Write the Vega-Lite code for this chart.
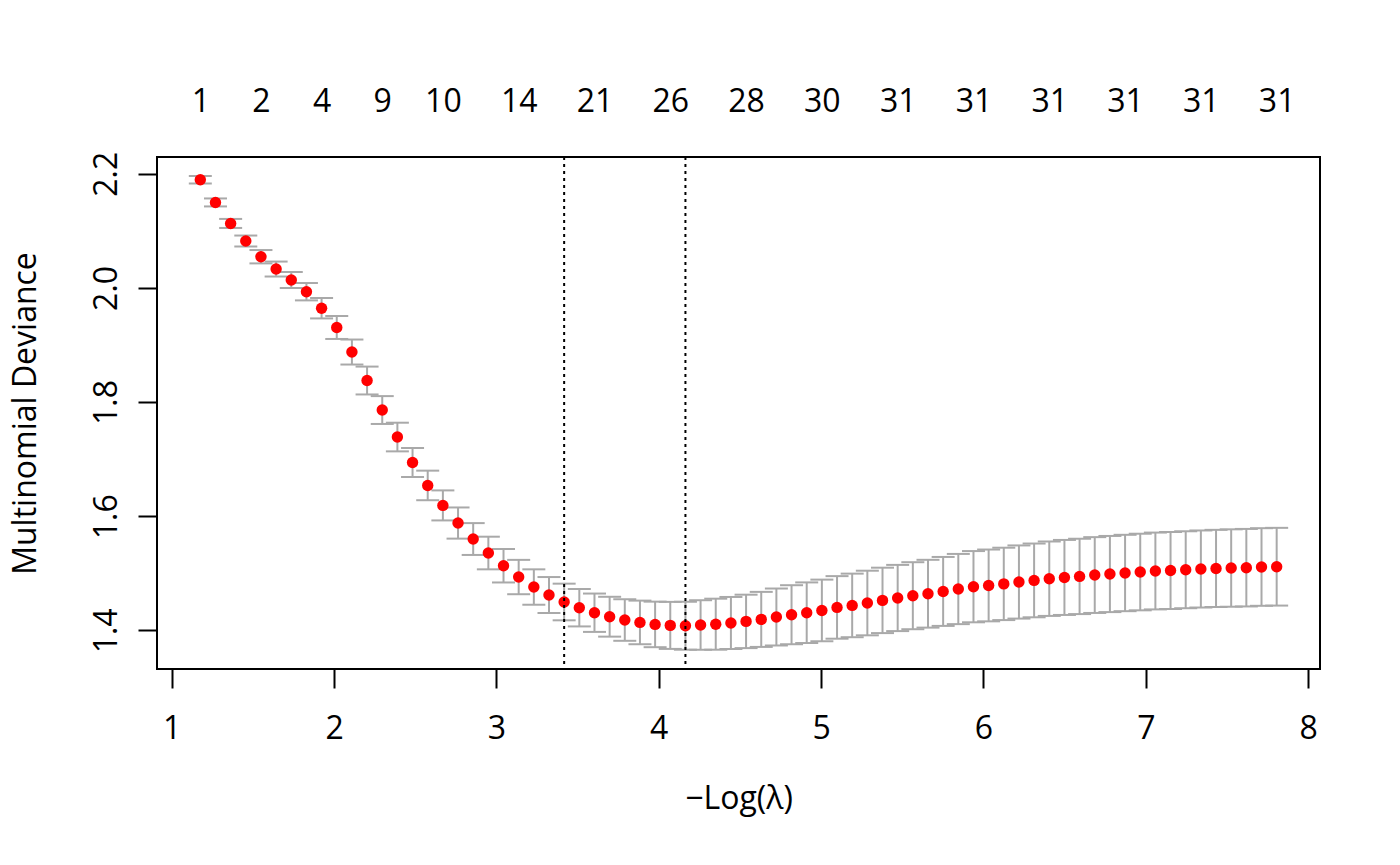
{
  "$schema": "https://vega.github.io/schema/vega-lite/v6.json",
  "width": 1163,
  "height": 512,
  "autosize": "none",
  "padding": {"left": 157, "top": 157, "right": 80, "bottom": 196},
  "background": "white",
  "config": {
    "view": {"stroke": "black", "strokeWidth": 2},
    "font": "Open Sans",
    "axisLeft": {
      "domain": false, "grid": false,
      "ticks": true, "tickSize": 19, "tickWidth": 2, "tickColor": "black",
      "labelFontSize": 32, "labelColor": "black", "labelFont": "Open Sans",
      "labelAngle": -90, "labelAlign": "center", "labelBaseline": "alphabetic",
      "labelPadding": 22, "labelFlush": false, "labelOverlap": false,
      "titleFontSize": 32, "titleFontWeight": "normal", "titleColor": "black",
      "titleFont": "Open Sans", "titleBaseline": "alphabetic", "titleAngle": -90, "titleX": -122
    }
  },
  "datasets": {
    "cv": [
      {"x": 1.1762, "cvm": 2.1895, "up": 2.1962, "lo": 2.1828},
      {"x": 1.2696, "cvm": 2.1497, "up": 2.1567, "lo": 2.1427},
      {"x": 1.3630, "cvm": 2.1129, "up": 2.1208, "lo": 2.1050},
      {"x": 1.4563, "cvm": 2.0821, "up": 2.0917, "lo": 2.0725},
      {"x": 1.5497, "cvm": 2.0546, "up": 2.0663, "lo": 2.0429},
      {"x": 1.6431, "cvm": 2.0330, "up": 2.0461, "lo": 2.0199},
      {"x": 1.7365, "cvm": 2.0138, "up": 2.0278, "lo": 1.9998},
      {"x": 1.8299, "cvm": 1.9933, "up": 2.0085, "lo": 1.9781},
      {"x": 1.9232, "cvm": 1.9644, "up": 1.9823, "lo": 1.9465},
      {"x": 2.0166, "cvm": 1.9306, "up": 1.9507, "lo": 1.9105},
      {"x": 2.1100, "cvm": 1.8876, "up": 1.9095, "lo": 1.8657},
      {"x": 2.2034, "cvm": 1.8377, "up": 1.8621, "lo": 1.8133},
      {"x": 2.2968, "cvm": 1.7860, "up": 1.8104, "lo": 1.7616},
      {"x": 2.3901, "cvm": 1.7387, "up": 1.7638, "lo": 1.7136},
      {"x": 2.4835, "cvm": 1.6942, "up": 1.7196, "lo": 1.6688},
      {"x": 2.5769, "cvm": 1.6539, "up": 1.6798, "lo": 1.6280},
      {"x": 2.6703, "cvm": 1.6189, "up": 1.6452, "lo": 1.5926},
      {"x": 2.7637, "cvm": 1.5880, "up": 1.6153, "lo": 1.5607},
      {"x": 2.8570, "cvm": 1.5600, "up": 1.5879, "lo": 1.5321},
      {"x": 2.9504, "cvm": 1.5355, "up": 1.5641, "lo": 1.5069},
      {"x": 3.0438, "cvm": 1.5132, "up": 1.5425, "lo": 1.4839},
      {"x": 3.1372, "cvm": 1.4934, "up": 1.5235, "lo": 1.4633},
      {"x": 3.2306, "cvm": 1.4759, "up": 1.5069, "lo": 1.4449},
      {"x": 3.3239, "cvm": 1.4619, "up": 1.4934, "lo": 1.4304},
      {"x": 3.4173, "cvm": 1.4497, "up": 1.4818, "lo": 1.4176},
      {"x": 3.5107, "cvm": 1.4397, "up": 1.4725, "lo": 1.4069},
      {"x": 3.6041, "cvm": 1.4309, "up": 1.4645, "lo": 1.3973},
      {"x": 3.6975, "cvm": 1.4239, "up": 1.4588, "lo": 1.3890},
      {"x": 3.7908, "cvm": 1.4181, "up": 1.4545, "lo": 1.3817},
      {"x": 3.8842, "cvm": 1.4139, "up": 1.4521, "lo": 1.3757},
      {"x": 3.9776, "cvm": 1.4104, "up": 1.4503, "lo": 1.3705},
      {"x": 4.0710, "cvm": 1.4087, "up": 1.4499, "lo": 1.3675},
      {"x": 4.1644, "cvm": 1.4081, "up": 1.4501, "lo": 1.3661},
      {"x": 4.2577, "cvm": 1.4094, "up": 1.4528, "lo": 1.3660},
      {"x": 4.3511, "cvm": 1.4108, "up": 1.4555, "lo": 1.3661},
      {"x": 4.4445, "cvm": 1.4129, "up": 1.4585, "lo": 1.3673},
      {"x": 4.5379, "cvm": 1.4157, "up": 1.4625, "lo": 1.3689},
      {"x": 4.6313, "cvm": 1.4192, "up": 1.4674, "lo": 1.3710},
      {"x": 4.7246, "cvm": 1.4234, "up": 1.4733, "lo": 1.3735},
      {"x": 4.8180, "cvm": 1.4274, "up": 1.4791, "lo": 1.3757},
      {"x": 4.9114, "cvm": 1.4309, "up": 1.4840, "lo": 1.3778},
      {"x": 5.0048, "cvm": 1.4349, "up": 1.4889, "lo": 1.3809},
      {"x": 5.0982, "cvm": 1.4402, "up": 1.4950, "lo": 1.3854},
      {"x": 5.1915, "cvm": 1.4437, "up": 1.4994, "lo": 1.3880},
      {"x": 5.2849, "cvm": 1.4479, "up": 1.5045, "lo": 1.3913},
      {"x": 5.3783, "cvm": 1.4525, "up": 1.5098, "lo": 1.3952},
      {"x": 5.4717, "cvm": 1.4567, "up": 1.5147, "lo": 1.3987},
      {"x": 5.5651, "cvm": 1.4607, "up": 1.5194, "lo": 1.4020},
      {"x": 5.6584, "cvm": 1.4642, "up": 1.5236, "lo": 1.4048},
      {"x": 5.7518, "cvm": 1.4682, "up": 1.5286, "lo": 1.4078},
      {"x": 5.8452, "cvm": 1.4724, "up": 1.5339, "lo": 1.4109},
      {"x": 5.9386, "cvm": 1.4765, "up": 1.5389, "lo": 1.4141},
      {"x": 6.0320, "cvm": 1.4787, "up": 1.5416, "lo": 1.4158},
      {"x": 6.1253, "cvm": 1.4814, "up": 1.5448, "lo": 1.4180},
      {"x": 6.2187, "cvm": 1.4847, "up": 1.5488, "lo": 1.4206},
      {"x": 6.3121, "cvm": 1.4875, "up": 1.5521, "lo": 1.4229},
      {"x": 6.4055, "cvm": 1.4905, "up": 1.5557, "lo": 1.4253},
      {"x": 6.4989, "cvm": 1.4927, "up": 1.5584, "lo": 1.4270},
      {"x": 6.5922, "cvm": 1.4945, "up": 1.5605, "lo": 1.4285},
      {"x": 6.6856, "cvm": 1.4969, "up": 1.5633, "lo": 1.4305},
      {"x": 6.7790, "cvm": 1.4987, "up": 1.5654, "lo": 1.4320},
      {"x": 6.8724, "cvm": 1.5005, "up": 1.5674, "lo": 1.4336},
      {"x": 6.9658, "cvm": 1.5022, "up": 1.5693, "lo": 1.4351},
      {"x": 7.0591, "cvm": 1.5040, "up": 1.5713, "lo": 1.4367},
      {"x": 7.1525, "cvm": 1.5050, "up": 1.5724, "lo": 1.4376},
      {"x": 7.2459, "cvm": 1.5062, "up": 1.5736, "lo": 1.4388},
      {"x": 7.3393, "cvm": 1.5075, "up": 1.5750, "lo": 1.4400},
      {"x": 7.4327, "cvm": 1.5085, "up": 1.5761, "lo": 1.4409},
      {"x": 7.5260, "cvm": 1.5092, "up": 1.5770, "lo": 1.4414},
      {"x": 7.6194, "cvm": 1.5098, "up": 1.5777, "lo": 1.4419},
      {"x": 7.7128, "cvm": 1.5110, "up": 1.5790, "lo": 1.4430},
      {"x": 7.8062, "cvm": 1.5115, "up": 1.5796, "lo": 1.4434}
    ],
    "lam": [
      {"loglam": 3.4173, "which": "lambda.1se"},
      {"loglam": 4.1644, "which": "lambda.min"}
    ]
  },
  "layer": [
    {
      "data": {"name": "cv"},
      "mark": {"type": "rule", "color": "#A9A9A9", "strokeWidth": 2},
      "encoding": {
        "x": {
          "field": "x", "type": "quantitative",
          "scale": {"domain": [0.9094, 8.0731], "nice": false, "zero": false},
          "axis": {
            "orient": "bottom", "values": [1, 2, 3, 4, 5, 6, 7, 8], "format": "d",
            "title": "−Log(λ)", "domain": false, "grid": false,
            "ticks": true, "tickSize": 19, "tickWidth": 2, "tickColor": "black",
            "labelFontSize": 32, "labelColor": "black", "labelFont": "Open Sans",
            "labelPadding": 50, "labelBaseline": "alphabetic", "labelAlign": "center",
            "labelFlush": false, "labelOverlap": false,
            "titleFontSize": 32, "titleFontWeight": "normal", "titleColor": "black",
            "titleFont": "Open Sans", "titleBaseline": "alphabetic", "titleY": 139
          }
        },
        "y": {
          "field": "lo", "type": "quantitative",
          "scale": {"domain": [1.3323, 2.2293], "nice": false, "zero": false},
          "axis": {"orient": "left", "title": "Multinomial Deviance", "values": [1.4, 1.6, 1.8, 2.0, 2.2], "format": ".1f"}
        },
        "y2": {"field": "up"}
      }
    },
    {
      "data": {"name": "cv"},
      "mark": {"type": "tick", "orient": "horizontal", "size": 23, "thickness": 2, "color": "#A9A9A9", "opacity": 1},
      "encoding": {
        "x": {"field": "x", "type": "quantitative", "axis": null},
        "y": {"field": "up", "type": "quantitative", "axis": {"orient": "left", "title": "Multinomial Deviance", "values": [1.4, 1.6, 1.8, 2.0, 2.2], "format": ".1f"}}
      }
    },
    {
      "data": {"name": "cv"},
      "mark": {"type": "tick", "orient": "horizontal", "size": 23, "thickness": 2, "color": "#A9A9A9", "opacity": 1},
      "encoding": {
        "x": {"field": "x", "type": "quantitative", "axis": null},
        "y": {"field": "lo", "type": "quantitative", "axis": {"orient": "left", "title": "Multinomial Deviance", "values": [1.4, 1.6, 1.8, 2.0, 2.2], "format": ".1f"}}
      }
    },
    {
      "data": {"name": "cv"},
      "mark": {"type": "circle", "color": "#FF0000", "opacity": 1, "size": 130},
      "encoding": {
        "x": {"field": "x", "type": "quantitative", "axis": null},
        "y": {"field": "cvm", "type": "quantitative", "axis": {"orient": "left", "title": "Multinomial Deviance", "values": [1.4, 1.6, 1.8, 2.0, 2.2], "format": ".1f"}}
      }
    },
    {
      "data": {"name": "lam"},
      "mark": {"type": "rule", "color": "black", "strokeWidth": 2, "strokeDash": [3, 4]},
      "encoding": {
        "x": {
          "field": "loglam", "type": "quantitative",
          "scale": {"domain": [0.9094, 8.0731], "nice": false, "zero": false},
          "axis": {
            "orient": "top", "title": null, "domain": false, "grid": false,
            "ticks": false, "tickSize": 0,
            "values": [1.1762, 1.5497, 1.9232, 2.2968, 2.6703, 3.1372, 3.6041, 4.0710, 4.5379, 5.0048, 5.4717, 5.9386, 6.4055, 6.8724, 7.3393, 7.8062],
            "labelExpr": "['1','2','4','9','10','14','21','26','28','30','31','31','31','31','31','31'][indexof([1.1762,1.5497,1.9232,2.2968,2.6703,3.1372,3.6041,4.0710,4.5379,5.0048,5.4717,5.9386,6.4055,6.8724,7.3393,7.8062], datum.value)]",
            "labelFontSize": 32, "labelColor": "black", "labelFont": "Open Sans",
            "labelPadding": 46, "labelBaseline": "alphabetic", "labelAlign": "center",
            "labelFlush": false, "labelOverlap": false
          }
        }
      }
    }
  ],
  "resolve": {"axis": {"x": "independent"}}
}
